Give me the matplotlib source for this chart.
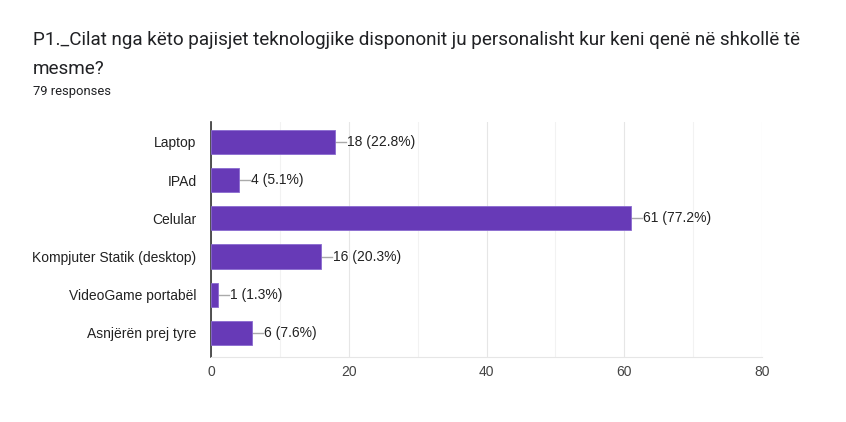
import matplotlib
matplotlib.use("Agg")
import matplotlib.pyplot as plt
from matplotlib.ticker import MultipleLocator

categories = ["Laptop", "IPAd", "Celular", "Kompjuter Statik (desktop)",
              "VideoGame portabël", "Asnjërën prej tyre"]
counts = [18, 4, 61, 16, 1, 6]
total = 79
xticks = [0, 20, 40, 60, 80]

plt.rcParams['font.family'] = ['Liberation Sans', 'DejaVu Sans']

fig = plt.figure(figsize=(8.46, 4.22), dpi=100)
ax = fig.add_axes([211/846, 1-357/422, (762-211)/846, (357-122)/422])

y = list(range(len(categories)))
ax.barh(y, counts, height=0.63, color="#673AB7", edgecolor="#8a6ad0", linewidth=0.6, zorder=3)
ax.set_ylim(5.63, -0.52)
ax.set_xlim(0, 80)
ax.set_yticks(y)
ax.set_yticklabels(categories, fontsize=10, color="#222222")
ax.set_xticks(xticks)
ax.set_xticklabels([str(t) for t in xticks], fontsize=10, color="#444444")
ax.xaxis.set_minor_locator(MultipleLocator(10))
ax.grid(axis='x', which='major', color="#e6e6e6", linewidth=0.8, zorder=0)
ax.grid(axis='x', which='minor', color="#f2f2f2", linewidth=0.8, zorder=0)
ax.tick_params(axis='both', which='both', length=0)
ax.tick_params(axis='y', pad=10.5)
ax.tick_params(axis='x', pad=5.5)
for s in ["top", "right"]:
    ax.spines[s].set_visible(False)
ax.spines["bottom"].set_color("#e6e6e6")
ax.spines["left"].set_color("#333333")
ax.spines["left"].set_linewidth(1.2)

px = 80 / (762 - 211)
for yi, c in zip(y, counts):
    ax.plot([c, c + 11 * px], [yi, yi], color="#aaaaaa", linewidth=1, zorder=2)
    ax.text(c + 12 * px, yi, f"{c} ({c/total*100:.1f}%)", va="center", ha="left",
            fontsize=10, color="#222222")

tfont = ['Roboto', 'DejaVu Sans']
fig.text(33/846, 1-45/422, "P1._Cilat nga këto pajisjet teknologjike dispononit ju personalisht kur keni qenë në shkollë të",
         fontsize=13.6, color="#202124", va="baseline", ha="left", family=tfont)
fig.text(33/846, 1-74/422, "mesme?", fontsize=13.6, color="#202124", va="baseline", ha="left", family=tfont)
fig.text(33/846, 1-95/422, "79 responses", fontsize=9.4, color="#202124", va="baseline", ha="left", family=tfont)

fig.savefig("out.png", dpi=100)
